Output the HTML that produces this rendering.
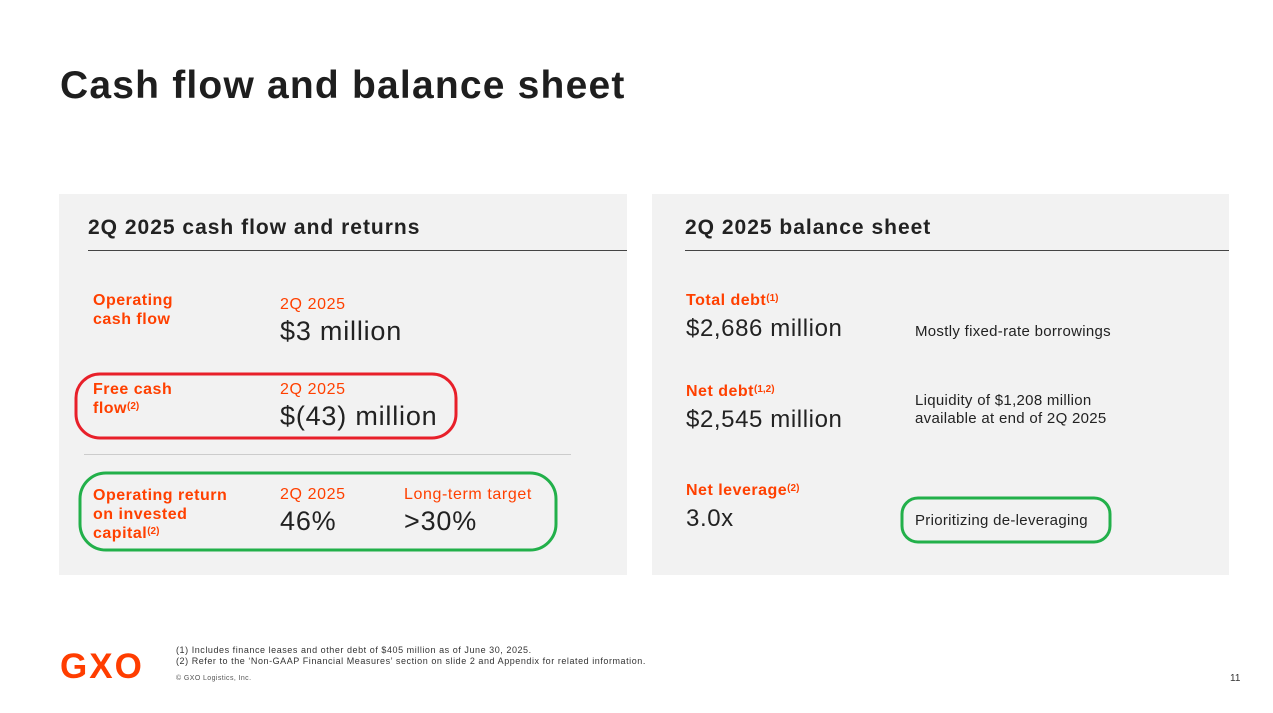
<!DOCTYPE html>
<html><head><meta charset="utf-8"><style>
body{margin:0;width:1273px;height:713px;background:#fff;position:relative;overflow:hidden;font-family:"Liberation Sans",sans-serif;color:#222}
.a{position:absolute;white-space:nowrap}
.o{color:#ff4000}
.lb{color:#ff4000;font-weight:bold;font-size:16px;line-height:19px;letter-spacing:0.5px}
.sm{font-size:16px;letter-spacing:0.6px}
.big{font-size:27px;letter-spacing:0.8px}
.val{font-size:24px;letter-spacing:0.6px}
.note{font-size:15px;letter-spacing:0.3px}
sup{font-size:10px;vertical-align:top;position:relative;top:-2px;letter-spacing:0}
.panel{position:absolute;background:#f2f2f2;top:194px;height:381px}
</style></head><body>
<div class="a" style="left:60px;top:64px;font-size:39px;font-weight:bold;color:#1e1e1e;letter-spacing:1.2px">Cash flow and balance sheet</div>

<div class="panel" style="left:59px;width:568px"></div>
<div class="panel" style="left:652px;width:577px"></div>

<div class="a" style="left:88px;top:216px;font-size:21px;font-weight:bold;letter-spacing:1px">2Q 2025 cash flow and returns</div>
<div class="a" style="left:88px;top:250px;width:539px;height:1px;background:#444"></div>
<div class="a" style="left:685px;top:216px;font-size:21px;font-weight:bold;letter-spacing:1px">2Q 2025 balance sheet</div>
<div class="a" style="left:685px;top:250px;width:544px;height:1px;background:#444"></div>

<div class="a lb" style="left:93px;top:291px">Operating<br>cash flow</div>
<div class="a o sm" style="left:280px;top:296px">2Q 2025</div>
<div class="a big" style="left:280px;top:316px">$3 million</div>

<div class="a lb" style="left:93px;top:380px">Free cash<br>flow<sup>(2)</sup></div>
<div class="a o sm" style="left:280px;top:381px">2Q 2025</div>
<div class="a big" style="left:280px;top:401px">$(43) million</div>

<div class="a" style="left:84px;top:454px;width:487px;height:1px;background:#ccc"></div>

<div class="a lb" style="left:93px;top:486px">Operating return<br>on invested<br>capital<sup>(2)</sup></div>
<div class="a o sm" style="left:280px;top:486px">2Q 2025</div>
<div class="a big" style="left:280px;top:506px">46%</div>
<div class="a o sm" style="left:404px;top:486px">Long-term target</div>
<div class="a big" style="left:404px;top:506px">&gt;30%</div>

<div class="a lb" style="left:686px;top:291px">Total debt<sup>(1)</sup></div>
<div class="a val" style="left:686px;top:315px">$2,686 million</div>
<div class="a note" style="left:915px;top:323px">Mostly fixed-rate borrowings</div>

<div class="a lb" style="left:686px;top:382px">Net debt<sup>(1,2)</sup></div>
<div class="a val" style="left:686px;top:406px">$2,545 million</div>
<div class="a note" style="left:915px;top:392px;line-height:18px">Liquidity of $1,208 million<br>available at end of 2Q 2025</div>

<div class="a lb" style="left:686px;top:481px">Net leverage<sup>(2)</sup></div>
<div class="a val" style="left:686px;top:505px">3.0x</div>
<div class="a note" style="left:915px;top:512px">Prioritizing de-leveraging</div>

<svg class="a" style="left:0;top:0" width="1273" height="713">
<rect x="76" y="374" width="380" height="64" rx="24" fill="none" stroke="#e8202a" stroke-width="3"/>
<rect x="80" y="473" width="476" height="77" rx="26" fill="none" stroke="#22b04a" stroke-width="3"/>
<rect x="902" y="498" width="208" height="44" rx="16" fill="none" stroke="#22b04a" stroke-width="3"/>
</svg>

<div class="a" style="left:60px;top:647px;font-size:35px;font-weight:bold;color:#ff3d00;letter-spacing:2px">GXO</div>
<div class="a" style="left:176px;top:645px;font-size:9px;line-height:11px;color:#333;letter-spacing:0.55px">(1) Includes finance leases and other debt of $405 million as of June 30, 2025.<br>(2) Refer to the ‘Non-GAAP Financial Measures’ section on slide 2 and Appendix for related information.</div>
<div class="a" style="left:176px;top:675px;font-size:7px;color:#555;letter-spacing:0.4px">© GXO Logistics, Inc.</div>
<div class="a" style="left:1230px;top:673px;font-size:10px;color:#333">11</div>
</body></html>
